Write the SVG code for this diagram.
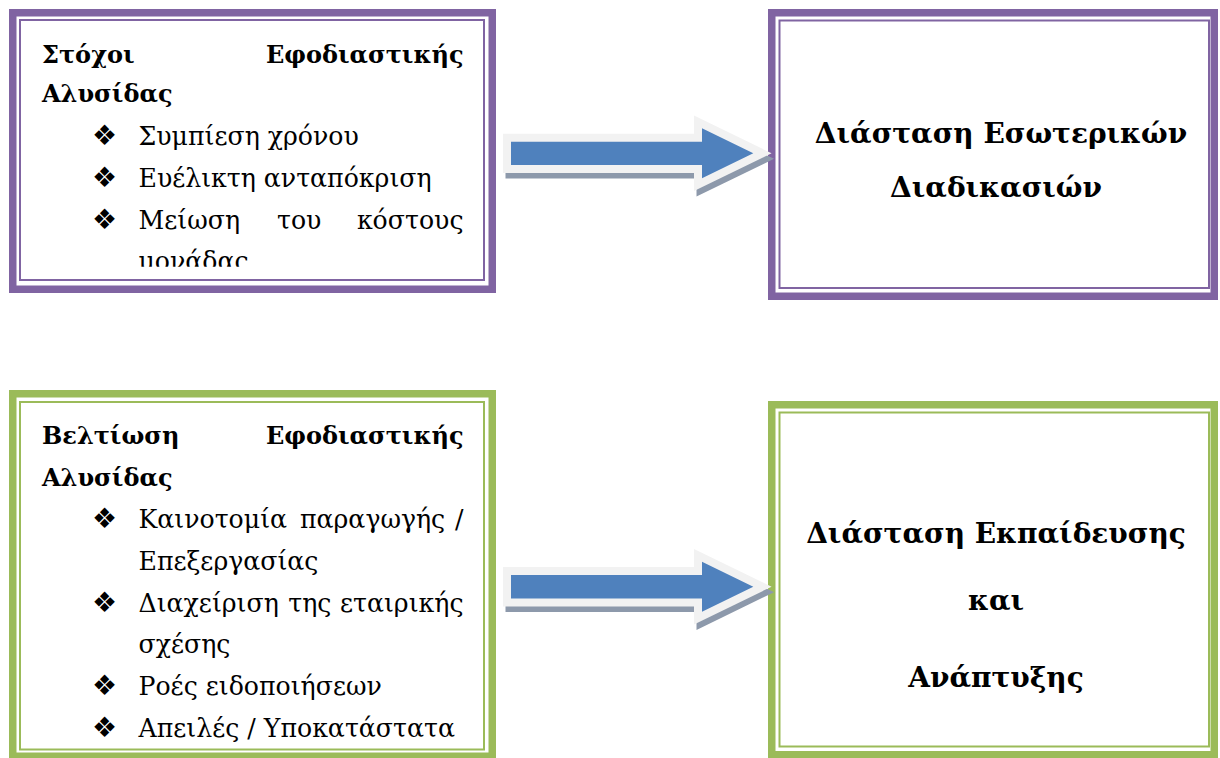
<svg xmlns="http://www.w3.org/2000/svg" width="1220" height="758" viewBox="0 0 1220 758">
<style>
.bg{fill:#ffffff}
.pthick{fill:none;stroke:#8064a2;stroke-width:7.5}
.pthin{fill:none;stroke:#8064a2;stroke-width:2}
.gthick{fill:none;stroke:#9bbb59;stroke-width:7.5}
.gthin{fill:none;stroke:#9bbb59;stroke-width:2}
.t{font-family:"DejaVu Serif","Liberation Serif",serif;fill:#000000}
.h{font-size:24px;font-weight:bold}
.i{font-size:25.2px}
.r{font-size:28px;font-weight:bold;text-anchor:middle}
.e{text-anchor:end}
.b{font-family:"DejaVu Sans",sans-serif;font-size:28px;fill:#000000}
.ashadow{fill:#8d99ab;stroke:#8d99ab;stroke-width:16;stroke-linejoin:miter;stroke-miterlimit:10}
.aout{fill:#f2f2f2;stroke:#f2f2f2;stroke-width:16;stroke-linejoin:miter;stroke-miterlimit:10}
.ain{fill:#4f81bd}
</style>
<defs>
<polygon id="arrowShape" points="511,141.7 702,141.7 702,128.3 753.3,153.3 702,178.3 702,165 511,165"/>
<clipPath id="clip1"><rect x="22" y="22" width="460" height="244.7"/></clipPath>
</defs>
<rect class="bg" x="0" y="0" width="1220" height="758"/>

<g id="box-stochoi">
<rect class="pthick" x="12.75" y="12.75" width="479.5" height="276.5"/>
<rect class="pthin" x="20" y="20" width="464" height="260"/>
<g clip-path="url(#clip1)">
<text class="t h" x="42" y="63">Στόχοι</text>
<text class="t h e" x="463.5" y="63">Εφοδιαστικής</text>
<text class="t h" x="42" y="102">Αλυσίδας</text>
<text class="b" x="92" y="145">❖</text>
<text class="t i" x="138.5" y="145">Συμπίεση χρόνου</text>
<text class="b" x="92" y="187">❖</text>
<text class="t i" x="138.5" y="187">Ευέλικτη ανταπόκριση</text>
<text class="b" x="92" y="228.5">❖</text>
<text class="t i" x="138.5" y="228.5">Μείωση</text>
<text class="t i" x="277" y="228.5">του</text>
<text class="t i e" x="463.5" y="228.5">κόστους</text>
<text class="t i" x="138.5" y="270">μονάδας</text>
</g>
</g>

<g id="box-esoterikon">
<rect class="pthick" x="771.75" y="12.75" width="442.5" height="283.5"/>
<rect class="pthin" x="779.5" y="20.5" width="429.5" height="267.5"/>
<text class="t r" x="1001" y="143.3">Διάσταση Εσωτερικών</text>
<text class="t r" x="996" y="196.7">Διαδικασιών</text>
</g>

<g id="box-beltiosi">
<rect class="gthick" x="12.75" y="393.75" width="479.5" height="362.5"/>
<rect class="gthin" x="20" y="402" width="464" height="347.5"/>
<text class="t h" x="42" y="444">Βελτίωση</text>
<text class="t h e" x="463.5" y="444">Εφοδιαστικής</text>
<text class="t h" x="42" y="486">Αλυσίδας</text>
<text class="b" x="92" y="527.7">❖</text>
<text class="t i" x="138.5" y="527.7">Καινοτομία</text>
<text class="t i" x="300" y="527.7">παραγωγής</text>
<text class="t i e" x="463.5" y="527.7">/</text>
<text class="t i" x="138.5" y="570">Επεξεργασίας</text>
<text class="b" x="92" y="611.7">❖</text>
<text class="t i" x="138.5" y="611.7">Διαχείριση</text>
<text class="t i" x="288.3" y="611.7">της</text>
<text class="t i e" x="463.5" y="611.7">εταιρικής</text>
<text class="t i" x="138.5" y="653.3">σχέσης</text>
<text class="b" x="92" y="695">❖</text>
<text class="t i" x="138.5" y="695">Ροές ειδοποιήσεων</text>
<text class="b" x="92" y="737.3">❖</text>
<text class="t i" x="138.5" y="737.3">Απειλές / Υποκατάστατα</text>
</g>

<g id="box-ekpaideusis">
<rect class="gthick" x="771.75" y="404.75" width="442.5" height="350"/>
<rect class="gthin" x="779.5" y="412.5" width="429.5" height="334"/>
<text class="t r" x="996" y="543.3">Διάσταση Εκπαίδευσης</text>
<text class="t r" x="996" y="610">και</text>
<text class="t r" x="996" y="686.7">Ανάπτυξης</text>
</g>

<g id="connectors">
<g id="arrow-top">
<use href="#arrowShape" class="ashadow" transform="translate(2.5,5.5)"/>
<use href="#arrowShape" class="aout"/>
<use href="#arrowShape" class="ain"/>
</g>
<g id="arrow-bottom" transform="translate(0,433.4)">
<use href="#arrowShape" class="ashadow" transform="translate(2.5,5.5)"/>
<use href="#arrowShape" class="aout"/>
<use href="#arrowShape" class="ain"/>
</g>
</g>
</svg>
